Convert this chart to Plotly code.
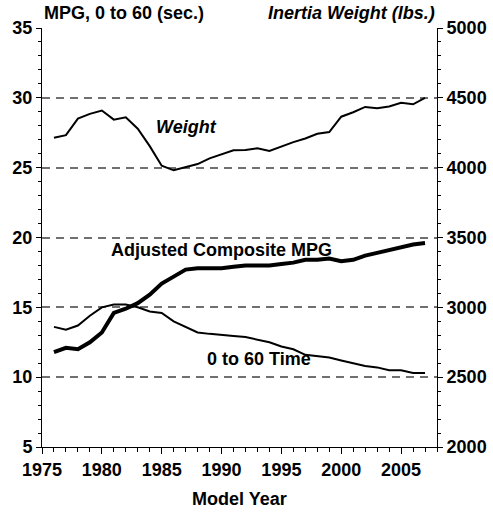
import plotly.graph_objects as go

years = list(range(1976, 2008))
mpg = [11.8, 12.1, 12.0, 12.5, 13.2, 14.6, 14.9, 15.3, 15.9, 16.7, 17.2, 17.7, 17.8, 17.8,
       17.8, 17.9, 18.0, 18.0, 18.0, 18.1, 18.2, 18.4, 18.4, 18.5, 18.3, 18.4, 18.7, 18.9,
       19.1, 19.35, 19.5, 19.6]
accel = [13.6, 13.4, 13.7, 14.4, 15.0, 15.2, 15.2, 15.0, 14.7, 14.6, 14.0, 13.6, 13.2, 13.1,
         13.05, 12.95, 12.87, 12.68, 12.5, 12.2, 12.0, 11.6, 11.5, 11.4, 11.2, 11.0, 10.8, 10.7,
         10.5, 10.5, 10.3, 10.3]
weight = [4214, 4233, 4351, 4385, 4409, 4344, 4361, 4279, 4154, 4014, 3981, 4005, 4026, 4067,
          4096, 4125, 4127, 4139, 4120, 4154, 4183, 4209, 4243, 4255, 4365, 4397, 4435, 4425,
          4438, 4464, 4454, 4500]

left_ticks = [5, 10, 15, 20, 25, 30, 35]
right_ticks = [2000, 2500, 3000, 3500, 4000, 4500, 5000]
x_ticks = [1975, 1980, 1985, 1990, 1995, 2000, 2005]

FONT = "Liberation Sans, Arial, sans-serif"
bold = dict(family=FONT, size=18, color="black", weight="bold")

fig = go.Figure()
fig.add_trace(go.Scatter(x=years, y=weight, mode="lines", yaxis="y2",
                         line=dict(color="black", width=2), showlegend=False))
fig.add_trace(go.Scatter(x=years, y=accel, mode="lines",
                         line=dict(color="black", width=2), showlegend=False))
fig.add_trace(go.Scatter(x=years, y=mpg, mode="lines",
                         line=dict(color="black", width=4), showlegend=False))

fig.update_layout(
    template="none",
    width=493, height=513,
    margin=dict(l=42, r=56, t=28, b=66, autoexpand=False),
    paper_bgcolor="white", plot_bgcolor="white",
    font=dict(family=FONT, size=18, color="black"),
    xaxis=dict(range=[1975, 2008], tickvals=x_ticks, ticks="outside", ticklen=6,
               tickwidth=1, tickcolor="black", showline=True, linecolor="black",
               linewidth=1, showgrid=False, zeroline=False, tickfont=bold,
               automargin=False,
               minor=dict(ticks="outside", dtick=1, ticklen=4, tickcolor="black",
                          showgrid=False)),
    xaxis2=dict(range=[1975, 2008], overlaying="x", anchor="y", side="bottom",
                tickvals=x_ticks, ticks="inside", ticklen=6, tickcolor="black",
                showticklabels=False, showline=False, showgrid=False, zeroline=False,
                automargin=False),
    yaxis=dict(range=[5, 35], tickvals=left_ticks, ticks="outside", ticklen=5,
               tickcolor="black", showline=True, linecolor="black", linewidth=1,
               showgrid=True, gridcolor="#707070", griddash="8px,6px", gridwidth=1.5,
               zeroline=False, tickfont=bold, automargin=False,
               minor=dict(ticks="outside", dtick=1, ticklen=3, tickcolor="black",
                          showgrid=False)),
    yaxis2=dict(range=[2000, 5000], tickvals=right_ticks, overlaying="y", side="right",
                anchor="x", ticks="outside", ticklen=5, tickcolor="black",
                showline=True, linecolor="black", linewidth=1, showgrid=False,
                zeroline=False, tickfont=bold, automargin=False,
                minor=dict(ticks="outside", dtick=100, ticklen=3, tickcolor="black",
                           showgrid=False)),
    annotations=[
        dict(text="MPG, 0 to 60 (sec.)", xref="paper", yref="paper", x=0.0, y=1.0,
             xanchor="left", yanchor="bottom", yshift=3, showarrow=False, font=bold),
        dict(text="Inertia Weight (lbs.)", xref="paper", yref="paper", x=1.0, y=1.0,
             xanchor="right", yanchor="bottom", yshift=3, showarrow=False,
             font=dict(family=FONT, size=18, color="black", weight="bold", style="italic")),
        dict(text="Model Year", xref="paper", yref="paper", x=0.5, y=0, yshift=-40,
             xanchor="center", yanchor="top", showarrow=False, font=bold),
        dict(text="Weight", xref="x", yref="y", x=1987.1, y=27.9, showarrow=False,
             font=dict(family=FONT, size=18, color="black", weight="bold", style="italic")),
        dict(text="Adjusted Composite MPG", xref="x", yref="y", x=1990.0, y=19.1,
             showarrow=False, font=bold),
        dict(text="0 to 60 Time", xref="x", yref="y", x=1993.1, y=11.3,
             showarrow=False, font=bold),
    ],
)

fig.write_html(
    "out.html",
    config={"displayModeBar": False},
    post_script="document.body.style.margin='0';document.body.style.overflow='hidden';",
)
